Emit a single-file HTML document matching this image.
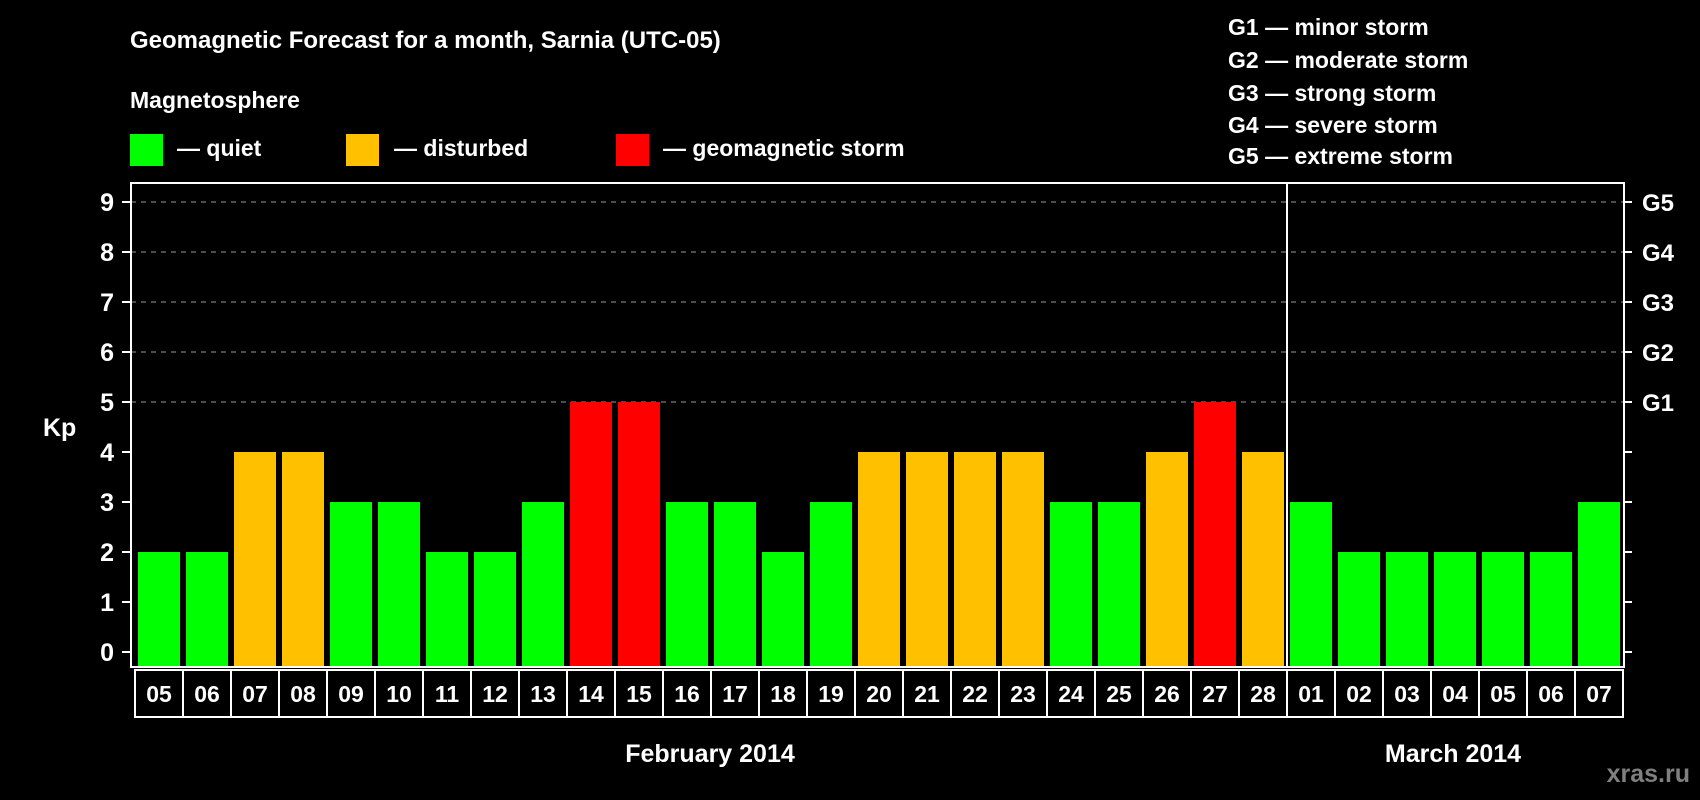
<!DOCTYPE html>
<html><head><meta charset="utf-8"><style>
html,body{margin:0;padding:0;background:#000;}
svg{display:block;font-family:"Liberation Sans",Arial,sans-serif;font-weight:bold;}
</style></head><body>
<svg id="chart" width="1700" height="800" viewBox="0 0 1700 800" xmlns="http://www.w3.org/2000/svg">
<rect width="1700" height="800" fill="#000"/>
<text x="130" y="48" fill="#fff" font-size="24">Geomagnetic Forecast for a month, Sarnia (UTC-05)</text>
<text x="130" y="108" fill="#fff" font-size="23">Magnetosphere</text>
<g><rect x="130" y="134" width="33" height="32" fill="#00ff00"/><text x="177" y="156" fill="#fff" font-size="23">— quiet</text></g>
<g><rect x="346" y="134" width="33" height="32" fill="#ffc000"/><text x="394" y="156" fill="#fff" font-size="23">— disturbed</text></g>
<g><rect x="616" y="134" width="33" height="32" fill="#ff0000"/><text x="663" y="156" fill="#fff" font-size="23">— geomagnetic storm</text></g>
<g fill="#fff" font-size="23">
<text x="1228" y="35">G1 — minor storm</text>
<text x="1228" y="68">G2 — moderate storm</text>
<text x="1228" y="101">G3 — strong storm</text>
<text x="1228" y="133">G4 — severe storm</text>
<text x="1228" y="164">G5 — extreme storm</text>
</g>
<text x="43" y="436" fill="#fff" font-size="25">Kp</text>
<g id="grid"></g><g id="bars"></g><g id="axes"></g><g id="labels"></g>
<text x="710" y="762" fill="#fff" font-size="25" text-anchor="middle">February 2014</text>
<text x="1453" y="762" fill="#fff" font-size="25" text-anchor="middle">March 2014</text>
<text x="1690" y="782" fill="#808080" font-size="25" text-anchor="end">xras.ru</text>
</svg>
<script>
const days = ["05","06","07","08","09","10","11","12","13","14","15","16","17","18","19","20","21","22","23","24","25","26","27","28","01","02","03","04","05","06","07"];
const kpValues = [2,2,4,4,3,3,2,2,3,5,5,3,3,2,3,4,4,4,4,3,3,4,5,4,3,2,2,2,2,2,3];
const yTicks = [0,1,2,3,4,5,6,7,8,9];
const gLevels = ["G1","G2","G3","G4","G5"];
const monthBreakIndex = 24;

const NS="http://www.w3.org/2000/svg";
const L=131,R=1624,T=183,B=667,cellX0=135,cellW=48;
const y=v=>652-v*50;
const x=i=>cellX0+i*cellW;
function mk(tag,attrs,parent){const e=document.createElementNS(NS,tag);for(const k in attrs)e.setAttribute(k,attrs[k]);document.getElementById(parent).appendChild(e);return e;}
const col=v=>v>=5?"#ff0000":(v>=4?"#ffc000":"#00ff00");

gLevels.forEach((g,i)=>{
 const v=5+i;
 const ln=mk("line",{x1:L,x2:R,y1:y(v),y2:y(v),stroke:"#999","stroke-width":1,"stroke-dasharray":"5,5"},"grid");
 
 
 const t=mk("text",{x:1642,y:y(v)+9,fill:"#fff","font-size":24},"labels");
 t.textContent=g;
 
 
});
kpValues.forEach((v,i)=>{
 const r=mk("rect",{x:x(i)+3,y:y(v),width:42,height:B-y(v),fill:col(v)},"bars");
 
 
 const c=mk("rect",{x:x(i),y:670,width:cellW,height:47,fill:"none",stroke:"#fff","stroke-width":2},"labels");
 
 
 const t=mk("text",{x:x(i)+cellW/2,y:702,fill:"#fff","font-size":23,"text-anchor":"middle"},"labels");
 t.textContent=days[i];
 
 
});
const frame=mk("rect",{x:L,y:T,width:R-L,height:B-T,fill:"none",stroke:"#fff","stroke-width":2},"axes");


const sep=mk("line",{x1:x(monthBreakIndex),x2:x(monthBreakIndex),y1:T,y2:B,stroke:"#fff","stroke-width":2},"axes");


yTicks.forEach(v=>{
 const a=mk("line",{x1:L-9,x2:L,y1:y(v),y2:y(v),stroke:"#fff","stroke-width":2},"axes");
 
 
 const b=mk("line",{x1:R,x2:R+8,y1:y(v),y2:y(v),stroke:"#fff","stroke-width":2},"axes");
 
 
 const t=mk("text",{x:114,y:y(v)+9,fill:"#fff","font-size":25,"text-anchor":"end"},"labels");
 t.textContent=v;
 
 
});
</script>
</body></html>
